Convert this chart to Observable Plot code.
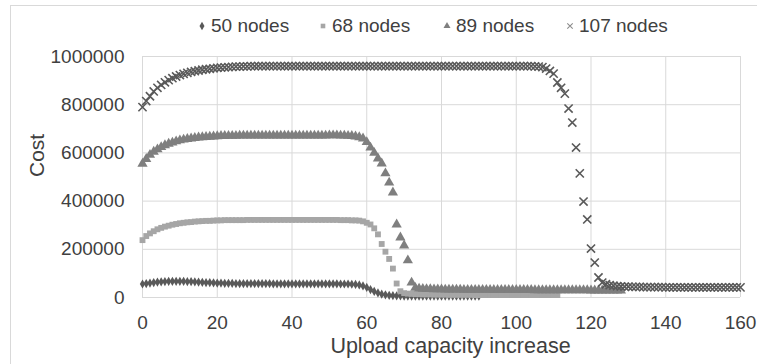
<!DOCTYPE html>
<html><head><meta charset="utf-8">
<script src="https://cdn.jsdelivr.net/npm/d3@7"></script>
<script src="https://cdn.jsdelivr.net/npm/@observablehq/plot@0.6"></script>
<style>
html,body{margin:0;padding:0;background:#fff;overflow:hidden;font-family:"Liberation Sans",Arial,sans-serif;}
#border{position:absolute;left:10px;top:5px;width:800px;height:400px;border:1px solid #d9d9d9;pointer-events:none;}
#legend{position:relative;height:45px;}
.item{position:absolute;top:14px;font-size:19px;line-height:24px;color:#404040;display:flex;align-items:center;white-space:nowrap;}
.item svg{margin-right:3px;}
</style></head><body>
<div id="border"></div>
<div id="legend"></div>
<div id="chart"></div>
<script>
const seriesNames = ["50 nodes", "68 nodes", "89 nodes", "107 nodes"];
const xTicks = [0, 20, 40, 60, 80, 100, 120, 140, 160];
const yTicks = [0, 200000, 400000, 600000, 800000, 1000000];
const xLabel = "Upload capacity increase";
const yLabel = "Cost";

// values indexed by upload capacity increase (0, 1, 2, ...)
const n50 = [
 56000,58000,60000,62000,64000,65000,66000,67000,67000,67000,
 67000,67000,66000,66000,65000,64000,63000,62000,62000,61000,
 60000,60000,59000,59000,59000,58000,58000,58000,58000,58000,
 58000,58000,58000,58000,58000,57000,57000,57000,57000,57000,
 57000,57000,57000,57000,57000,57000,57000,57000,57000,57000,
 57000,57000,57000,56000,56000,56000,55000,54000,52000,48000,
 42000,33000,25000,19000,14000,11000,9000,8000,7000,7000,
 6000,6000,6000,6000,6000,6000,6000,6000,6000,6000,
 6000,6000,6000,6000,6000,6000,6000,6000,6000,6000,
 6000];
const n68 = [
 238000,255000,266000,275000,283000,289000,294000,298000,302000,305000,
 308000,310000,312000,313000,315000,316000,317000,318000,318000,319000,
 320000,320000,321000,321000,321000,321000,321000,321000,322000,322000,
 322000,322000,322000,322000,322000,322000,322000,322000,322000,322000,
 322000,322000,322000,322000,322000,322000,322000,322000,322000,322000,
 322000,322000,322000,321000,321000,321000,320000,320000,319000,316000,
 310000,303000,287000,262000,222000,190000,160000,120000,58000,26000,
 18000,16000,15000,14000,14000,13000,13000,13000,12000,12000,
 12000,12000,11000,11000,11000,11000,11000,11000,11000,10000,
 10000,10000,10000,10000,10000,10000,10000,10000,10000,10000,
 10000,10000,10000,10000,10000,10000,10000,10000,10000,10000,
 10000,10000];
const n89 = [
 555000,575000,592000,605000,615000,624000,632000,638000,643000,648000,
 652000,655000,658000,660000,662000,664000,665000,666000,667000,668000,
 669000,670000,670000,671000,671000,671000,672000,672000,672000,672000,
 672000,672000,672000,672000,672000,672000,672000,672000,672000,672000,
 672000,672000,672000,672000,672000,672000,672000,672000,672000,672000,
 673000,673000,673000,672000,672000,671000,670000,668000,665000,660000,
 645000,622000,600000,577000,556000,515000,477000,436000,303000,249000,
 216000,154000,62000,40000,37000,36000,35000,35000,34000,34000,
 34000,33000,33000,33000,33000,33000,32000,32000,32000,32000,
 32000,32000,32000,32000,31000,31000,31000,31000,31000,31000,
 31000,31000,31000,31000,31000,30000,30000,30000,30000,30000,
 30000,30000,30000,30000,30000,30000,30000,30000,30000,30000,
 29000,29000,29000,29000,29000,29000,29000,29000,29000];
const n107 = [
 790000,815000,835000,855000,870000,882000,893000,902000,910000,917000,
 923000,928000,932000,936000,939000,942000,945000,947000,949000,951000,
 953000,954000,955000,956000,957000,958000,958000,959000,959000,960000,
 960000,960000,960000,960000,960000,960000,960000,960000,960000,960000,
 960000,960000,960000,960000,960000,960000,960000,960000,960000,960000,
 960000,960000,960000,960000,960000,960000,960000,960000,960000,960000,
 960000,960000,960000,960000,960000,960000,960000,960000,960000,960000,
 960000,960000,960000,960000,960000,960000,960000,960000,960000,960000,
 960000,960000,960000,960000,960000,960000,960000,960000,960000,960000,
 960000,960000,960000,960000,960000,960000,960000,960000,960000,960000,
 960000,960000,960000,960000,960000,959000,958000,956000,950000,940000,
 929000,892000,870000,846000,784000,726000,622000,515000,398000,324000,
 203000,145000,83000,62000,55000,51000,49000,47000,46000,45000,
 45000,44000,44000,44000,43000,43000,43000,43000,43000,43000,
 42000,42000,42000,42000,42000,42000,42000,42000,42000,42000,
 42000,42000,42000,42000,42000,42000,42000,42000,42000,42000,
 42000];

const seriesValues = [n50, n68, n89, n107];
const symbols = ["diamond", "square", "triangle", "times"];
const colors = ["#595959", "#a6a6a6", "#7f7f7f", "#595959"];
const radii = [2.8, 3.3, 3.8, 3.8];

const data = seriesNames.flatMap((name, k) =>
  seriesValues[k].map((v, i) => ({x: i, y: v, s: name})));

// legend
const legend = document.getElementById("legend");
const legendLeft = [196, 317, 441, 564];
const d3Symbols = {diamond: d3.symbolDiamond, square: d3.symbolSquare, triangle: d3.symbolTriangle, times: d3.symbolTimes};
const legendColors = ["#595959", "#a6a6a6", "#7f7f7f", "#8c8c8c"];
seriesNames.forEach((name, k) => {
  const item = document.createElement("div");
  item.className = "item";
  item.style.left = legendLeft[k] + "px";
  const sym = d3.symbol(d3Symbols[symbols[k]], Math.PI * 3 * 3 * 0.75)();
  const filled = symbols[k] !== "times";
  item.innerHTML = `<svg width="12" height="12" viewBox="-6 -6 12 12"><path d="${sym}" fill="${filled ? legendColors[k] : "none"}" stroke="${filled ? "none" : legendColors[k]}" stroke-width="1.1"/></svg><span>${name}</span>`;
  legend.appendChild(item);
});

const marks = [
  Plot.gridY(yTicks, {stroke: "#d9d9d9", strokeOpacity: 1, strokeWidth: 1}),
  Plot.gridX(xTicks, {stroke: "#d9d9d9", strokeOpacity: 1, strokeWidth: 1}),
  Plot.axisX(xTicks, {tickSize: 0, tickPadding: 18, fontSize: 19, fill: "#404040", label: null}),
  Plot.axisY(yTicks, {tickSize: 0, tickPadding: 18, fontSize: 19, fill: "#404040",
    tickFormat: d => String(d), label: null}),
  Plot.text([xLabel], {frameAnchor: "bottom", dy: 55, dx: 9, fontSize: 21.5, fill: "#404040"}),
  Plot.text([yLabel], {frameAnchor: "left", dx: -105, rotate: -90, fontSize: 21, fill: "#404040"})
];
seriesNames.forEach((name, k) => {
  const subset = data.filter(d => d.s === name);
  if (symbols[k] === "times") {
    marks.push(Plot.dot(subset, {x: "x", y: "y", symbol: "times", r: radii[k], stroke: colors[k], strokeWidth: 1.6, fill: "none"}));
  } else {
    marks.push(Plot.dot(subset, {x: "x", y: "y", symbol: symbols[k], r: radii[k], fill: colors[k], stroke: "none"}));
  }
});

const chart = Plot.plot({
  width: 757,
  height: 319,
  marginLeft: 142,
  marginRight: 17,
  marginTop: 11,
  marginBottom: 67,
  style: {fontFamily: "'Liberation Sans', Arial, sans-serif", fontSize: "19px", color: "#404040", background: "transparent"},
  x: {domain: [0, 160]},
  y: {domain: [0, 1000000]},
  marks
});
document.getElementById("chart").appendChild(chart);
</script>
</body></html>
